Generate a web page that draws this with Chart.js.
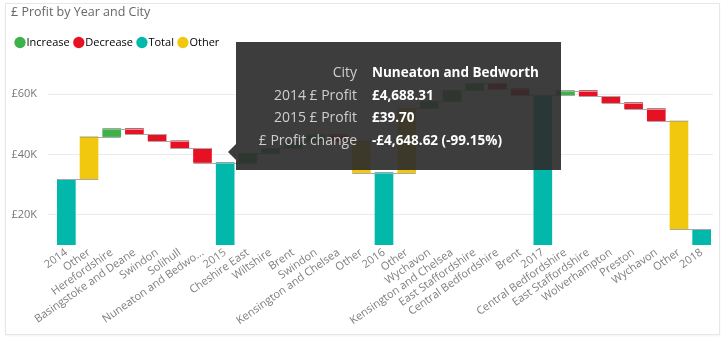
<!DOCTYPE html>
<html>
<head>
<meta charset="utf-8">
<title>£ Profit by Year and City</title>
<script src="https://cdn.jsdelivr.net/npm/chart.js@4.4.1/dist/chart.umd.min.js"></script>
<style>
  body { margin: 0; background: #fff; font-family: "Segoe UI", "Open Sans", sans-serif; }
  #frame { position: absolute; left: 5px; top: 3px; width: 713px; height: 330px; border: 1px solid #e6e6e6; box-shadow: 0 1px 2px rgba(0,0,0,0.05); }
  #chart { position: absolute; left: 0; top: 0; }
  #tip { position: absolute; display: none; width: 325px; height: 128px; background: rgba(45,45,45,0.92); pointer-events: none; }
  #tip:before { content: ''; position: absolute; left: -8px; top: 102px; border-style: solid; border-width: 8.5px 8px 8.5px 0; border-color: transparent rgba(45,45,45,0.92) transparent transparent; }
  #tip table { position: absolute; left: 0; top: 19px; border-collapse: collapse; }
  #tip td { padding: 0; height: 22.5px; line-height: 22.5px; white-space: nowrap; }
  #tip td.k { width: 121px; text-align: right; color: #cfcfcf; font-size: 14px; }
  #tip td.v { padding-left: 15px; color: #fff; font-size: 13.5px; font-weight: bold; }
</style>
</head>
<body>
<div id="frame"></div>
<canvas id="chart" width="728" height="342"></canvas>
<div id="tip"><table id="tip-rows"></table></div>
<script>
// bars in order: year totals, then the city / other changes into the next year
const categories = ['2014', 'Other', 'Herefordshire', 'Basingstoke and Deane', 'Swindon', 'Solihull', 'Nuneaton and Bedworth',
  '2015', 'Cheshire East', 'Wiltshire', 'Brent', 'Swindon', 'Kensington and Chelsea', 'Other',
  '2016', 'Other', 'Wychavon', 'Kensington and Chelsea', 'East Staffordshire', 'Central Bedfordshire', 'Brent',
  '2017', 'Central Bedfordshire', 'East Staffordshire', 'Wolverhampton', 'Preston', 'Wychavon', 'Other', '2018'];

const tickLabels = ['2014', 'Other', 'Herefordshire', 'Basingstoke and Deane', 'Swindon', 'Solihull', 'Nuneaton and Bedwo...',
  '2015', 'Cheshire East', 'Wiltshire', 'Brent', 'Swindon', 'Kensington and Chelsea', 'Other',
  '2016', 'Other', 'Wychavon', 'Kensington and Chelsea', 'East Staffordshire', 'Central Bedfordshire', 'Brent',
  '2017', 'Central Bedfordshire', 'East Staffordshire', 'Wolverhampton', 'Preston', 'Wychavon', 'Other', '2018'];

const kinds = ['total', 'other', 'city', 'city', 'city', 'city', 'city',
  'total', 'city', 'city', 'city', 'city', 'city', 'other',
  'total', 'other', 'city', 'city', 'city', 'city', 'city',
  'total', 'city', 'city', 'city', 'city', 'city', 'other', 'total'];

// totals are the year's profit, everything else is the change in £
const amounts = [31800, 14150, 2650, -1900, -2150, -2550, -4648.62,
  37350, 3000, 1700, 2300, 2250, -2000, -10600,
  34000, 21300, 2400, 3600, 2300, -1800, -2200,
  59600, 1600, -1900, -2100, -2000, -4000, -36000, 15200];

const yTicks = [20000, 40000, 60000];

// hovered bar and the two yearly figures behind it
const hoverIndex = 6;
const hoverYears = ['2014', '2015'];
const hoverProfit = [4688.31, 39.70];

const colours = { increase: '#3db24b', decrease: '#e81123', total: '#01b8aa', other: '#f2c80f' };

// floating [start, end] ranges for the waterfall
let level = 0;
const spans = amounts.map((v, i) => {
  if (kinds[i] === 'total') { level = v; return [0, v]; }
  const start = level;
  level += v;
  return [start, level];
});
const barColours = amounts.map((v, i) => {
  if (kinds[i] !== 'city') return colours[kinds[i]];
  return v >= 0 ? colours.increase : colours.decrease;
});

const money = v => (v < 0 ? '-' : '') + '£' + Math.abs(v).toLocaleString('en-GB', { minimumFractionDigits: 2, maximumFractionDigits: 2 });

// grey step lines joining each bar to the next
const connectors = {
  id: 'connectors',
  afterDatasetsDraw(chart) {
    const meta = chart.getDatasetMeta(0);
    const y = chart.scales.y;
    const ctx = chart.ctx;
    ctx.save();
    ctx.strokeStyle = '#a8a8a8';
    ctx.lineWidth = 1;
    for (let i = 0; i < spans.length - 1; i++) {
      const a = meta.data[i], b = meta.data[i + 1];
      const py = Math.round(y.getPixelForValue(spans[i][1])) + 0.5;
      ctx.beginPath();
      ctx.moveTo(a.x - a.width / 2, py);
      ctx.lineTo(b.x + b.width / 2, py);
      ctx.stroke();
    }
    ctx.restore();
  }
};

const tipEl = document.getElementById('tip');
const tipRows = document.getElementById('tip-rows');

function showTip(context) {
  const t = context.tooltip;
  if (!t.opacity || !t.dataPoints || !t.dataPoints.length) { tipEl.style.display = 'none'; return; }
  const i = t.dataPoints[0].dataIndex;
  const change = amounts[i];
  const rows = [
    ['City', categories[i]],
    [hoverYears[0] + ' £ Profit', money(hoverProfit[0])],
    [hoverYears[1] + ' £ Profit', money(hoverProfit[1])],
    ['£ Profit change', money(change) + ' (' + (change / hoverProfit[0] * 100).toFixed(2) + '%)']
  ];
  tipRows.innerHTML = rows.map(r => '<tr><td class="k">' + r[0] + '</td><td class="v">' + r[1] + '</td></tr>').join('');
  tipEl.style.display = 'block';
  tipEl.style.left = (t.caretX + 8) + 'px';
  tipEl.style.top = (t.caretY - 111) + 'px';
}

Chart.Tooltip.positioners.pointer = (elements, pos) => pos;
Chart.defaults.font.family = '"Segoe UI", "Open Sans", sans-serif';

const chart = new Chart(document.getElementById('chart'), {
  type: 'bar',
  data: {
    labels: tickLabels,
    datasets: [{
      data: spans,
      backgroundColor: barColours,
      borderWidth: 0,
      barThickness: 18
    }]
  },
  options: {
    responsive: false,
    animation: false,
    events: [],
    layout: { padding: { left: 11, right: 15, top: 0, bottom: 7 } },
    plugins: {
      title: {
        display: true,
        text: '£ Profit by Year and City',
        align: 'start',
        color: '#666',
        font: { size: 12.5, weight: 'normal' },
        padding: { top: 5, bottom: 9 }
      },
      legend: {
        display: true,
        align: 'start',
        onClick: null,
        labels: {
          usePointStyle: true,
          pointStyle: 'circle',
          boxWidth: 2,
          boxHeight: 8,
          padding: 8,
          color: '#666',
          font: { size: 11 },
          generateLabels: () => ['increase', 'decrease', 'total', 'other'].map(k => ({
            text: k.charAt(0).toUpperCase() + k.slice(1),
            fillStyle: colours[k],
            strokeStyle: colours[k],
            lineWidth: 0,
            pointStyle: 'circle'
          }))
        }
      },
      tooltip: {
        enabled: false,
        position: 'pointer',
        external: showTip
      }
    },
    scales: {
      x: {
        grid: { display: false, drawTicks: false },
        border: { display: false },
        ticks: {
          autoSkip: false,
          minRotation: 35,
          maxRotation: 35,
          padding: 1,
          color: '#808080',
          font: { size: 11 }
        },
        afterFit: s => { s.height = 90; }
      },
      y: {
        min: 10000,
        max: 72000,
        grid: { color: '#ebebeb', tickLength: 7, drawTicks: true },
        border: { display: false },
        afterBuildTicks: s => { s.ticks = yTicks.map(v => ({ value: v })); },
        ticks: {
          padding: 11,
          color: '#777',
          font: { size: 11 },
          callback: v => '£' + (v / 1000) + 'K'
        },
        afterFit: s => { s.width = 44; }
      }
    }
  },
  plugins: [connectors]
});

chart.tooltip.setActiveElements([{ datasetIndex: 0, index: hoverIndex }], { x: 228, y: 153 });
chart.update();
</script>
</body>
</html>
